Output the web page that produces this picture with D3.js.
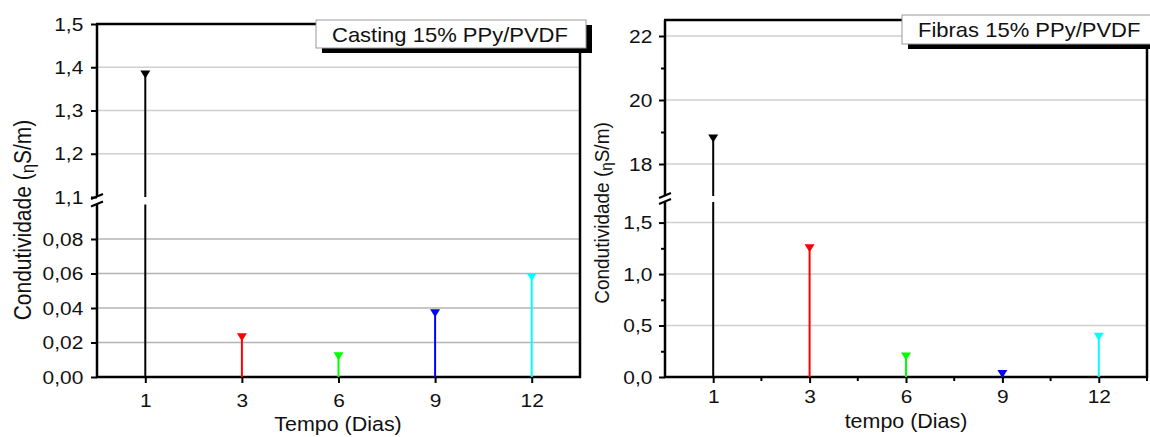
<!DOCTYPE html>
<html>
<head>
<meta charset="utf-8">
<script src="https://d3js.org/d3.v7.min.js"></script>
<style>
  body { margin: 0; background: #fff; }
  svg { display: block; font-family: "Liberation Sans", Arial, sans-serif; }
</style>
</head>
<body>
<svg width="1150" height="437"></svg>
<script>
// data
var days = ["1", "3", "6", "9", "12"];
var stemColors = ["#000000", "#ff0000", "#00ff00", "#0000ff", "#00ffff"];
var castingValues = [1.383, 0.023, 0.012, 0.037, 0.058];
var fibrasValues = [18.8, 1.25, 0.2, 0.03, 0.39];

var castingUpperTicks = [1.1, 1.2, 1.3, 1.4, 1.5];
var castingLowerTicks = [0, 0.02, 0.04, 0.06, 0.08];
var fibrasUpperTicks = [18, 20, 22];
var fibrasUpperMinor = [19, 21];
var fibrasLowerTicks = [0, 0.5, 1.0, 1.5];
var fibrasLowerMinor = [0.25, 0.75, 1.25];

var locale = d3.formatLocale({decimal: ",", thousands: ".", grouping: [3], currency: ["R$", ""]});

var svg = d3.select("svg");
var stretch = "scale(1.1,1)";

function drawPanel(p) {
    var g = svg.append("g");

    var x = d3.scalePoint().domain(days).range([p.x0, p.x1]).padding(0.5);
    var yU = d3.scaleLinear().domain(p.upperDomain).range([p.breakU, p.top]);
    var yL = d3.scaleLinear().domain(p.lowerDomain).range([p.bottom, p.breakL]);

    // gridlines
    g.selectAll(".gu").data(p.upperGrid).enter().append("line")
        .attr("x1", p.x0).attr("x2", p.x1)
        .attr("y1", yU).attr("y2", yU)
        .attr("stroke", "#cfcfcf").attr("stroke-width", 1.5);
    g.selectAll(".gl").data(p.lowerGrid).enter().append("line")
        .attr("x1", p.x0).attr("x2", p.x1)
        .attr("y1", yL).attr("y2", yL)
        .attr("stroke", p.lowerGridColor).attr("stroke-width", 1.5);

    // y axes
    g.append("g").attr("transform", "translate(" + p.x0 + ",0)")
        .call(d3.axisLeft(yU).tickValues(p.upperTicks).tickSize(6).tickPadding(p.yPad)
            .tickFormat(locale.format(p.upperFmt)));
    g.append("g").attr("transform", "translate(" + p.x0 + ",0)")
        .call(d3.axisLeft(yL).tickValues(p.lowerTicks).tickSize(6).tickPadding(p.yPad)
            .tickFormat(locale.format(p.lowerFmt)));
    if (p.upperMinor) {
        g.append("g").attr("transform", "translate(" + p.x0 + ",0)")
            .call(d3.axisLeft(yU).tickValues(p.upperMinor).tickSize(4).tickFormat(""));
        g.append("g").attr("transform", "translate(" + p.x0 + ",0)")
            .call(d3.axisLeft(yL).tickValues(p.lowerMinor).tickSize(4).tickFormat(""));
    }

    // x axis
    g.append("g").attr("transform", "translate(0," + p.bottom + ")")
        .call(d3.axisBottom(x).tickSize(6).tickPadding(p.xPad));
    if (p.xMinor) {
        var mids = [];
        for (var i = 0; i < days.length - 1; i++) {
            mids.push((x(days[i]) + x(days[i + 1])) / 2);
        }
        mids.push(x(days[days.length - 1]) + x.step() / 2);
        g.selectAll(".xm").data(mids).enter().append("line")
            .attr("x1", function (d) { return d; }).attr("x2", function (d) { return d; })
            .attr("y1", p.bottom).attr("y2", p.bottom + 4)
            .attr("stroke", "#000").attr("stroke-width", 2);
    }

    g.selectAll(".domain").remove();
    g.selectAll(".tick line").attr("stroke", "#000").attr("stroke-width", 2);
    g.selectAll(".tick text").attr("font-size", 19).attr("fill", "#111")
        .attr("font-family", "'Liberation Sans', Arial, sans-serif")
        .attr("transform", stretch);

    // frame
    var frame = g.append("g").attr("stroke", "#000").attr("stroke-width", 2.5).attr("fill", "none");
    frame.append("line").attr("x1", p.x0).attr("x2", p.x0).attr("y1", p.top).attr("y2", p.breakU);
    frame.append("line").attr("x1", p.x0).attr("x2", p.x0).attr("y1", p.breakL).attr("y2", p.bottom);
    frame.append("line").attr("x1", p.x0 - 1).attr("x2", p.x1 + 1).attr("y1", p.bottom).attr("y2", p.bottom);
    frame.append("line").attr("x1", p.x0 - 1).attr("x2", p.legX).attr("y1", p.top).attr("y2", p.top);
    frame.append("line").attr("x1", p.x1).attr("x2", p.x1).attr("y1", p.legY + p.legH).attr("y2", p.bottom + 1);

    // break marks
    var bk = g.append("g").attr("stroke", "#000").attr("stroke-width", 2);
    bk.append("line").attr("x1", p.x0 - 6).attr("x2", p.x0 + 6)
        .attr("y1", p.breakU + 2).attr("y2", p.breakU - 3);
    bk.append("line").attr("x1", p.x0 - 6).attr("x2", p.x0 + 6)
        .attr("y1", p.breakL + 2).attr("y2", p.breakL - 3);

    // stems and markers
    var pts = days.map(function (d, i) { return {day: d, v: p.values[i], c: stemColors[i]}; });
    var yv = function (v) { return v >= p.upperDomain[0] ? yU(v) : yL(v); };

    var stems = g.selectAll(".stem").data(pts).enter().append("g");
    stems.each(function (d) {
        var s = d3.select(this);
        var cx = x(d.day);
        if (d.v >= p.upperDomain[0]) {
            s.append("line").attr("x1", cx).attr("x2", cx)
                .attr("y1", yU(d.v)).attr("y2", yU(p.upperDomain[0]))
                .attr("stroke", d.c).attr("stroke-width", 2);
            s.append("line").attr("x1", cx).attr("x2", cx)
                .attr("y1", yL(p.lowerDomain[1])).attr("y2", yL(0))
                .attr("stroke", d.c).attr("stroke-width", 2);
        } else {
            s.append("line").attr("x1", cx).attr("x2", cx)
                .attr("y1", yL(d.v)).attr("y2", yL(0))
                .attr("stroke", d.c).attr("stroke-width", 2);
        }
    });
    g.selectAll(".mk").data(pts).enter().append("path")
        .attr("d", function (d) {
            var cx = x(d.day), cy = yv(d.v);
            return "M" + (cx - 5) + "," + (cy - 4) + "L" + (cx + 5) + "," + (cy - 4) + "L" + cx + "," + (cy + 4) + "Z";
        })
        .attr("fill", function (d) { return d.c; });

    // legend box
    g.append("rect").attr("x", p.legX + 6).attr("y", p.legY + 5)
        .attr("width", p.legW).attr("height", p.legH).attr("fill", "#000");
    g.append("rect").attr("x", p.legX).attr("y", p.legY)
        .attr("width", p.legW).attr("height", p.legH)
        .attr("fill", "#fff").attr("stroke", "#9a9a9a").attr("stroke-width", 1);
    g.append("text").attr("transform", "translate(" + (p.legX + 16) + "," + (p.legY + 22) + ") " + stretch)
        .attr("font-size", 20).attr("fill", "#111").text(p.legend);

    // axis titles
    g.append("text")
        .attr("transform", "translate(" + p.xTitleX + "," + p.xTitleY + ") " + stretch)
        .attr("text-anchor", "middle").attr("font-size", 19.5).attr("fill", "#111")
        .text(p.xTitle);
    var yt = g.append("text")
        .attr("transform", "translate(" + p.yTitleX + "," + p.yTitleY + ") rotate(-90) scale(1,1.1)")
        .attr("text-anchor", "middle").attr("font-size", p.yTitleSize).attr("fill", "#111");
    yt.append("tspan").text("Condutividade (");
    yt.append("tspan").attr("font-size", p.yTitleSize * 0.8).attr("dy", 3).text("\u03b7");
    yt.append("tspan").attr("dy", -3).text("S/m)");
}

drawPanel({
    x0: 97, x1: 580, top: 24, breakU: 197, breakL: 204.5, bottom: 377,
    upperDomain: [1.1, 1.5], lowerDomain: [0, 0.1],
    upperTicks: castingUpperTicks, lowerTicks: castingLowerTicks,
    upperGrid: [1.2, 1.3, 1.4], lowerGrid: [0.02, 0.04, 0.06, 0.08],
    lowerGridColor: "#b4b4b4",
    upperFmt: ".1f", lowerFmt: ".2f",
    values: castingValues,
    yPad: 6.5, xPad: 10.5, xMinor: false,
    legX: 316, legY: 20, legW: 270, legH: 28, legend: "Casting 15% PPy/PVDF",
    xTitle: "Tempo (Dias)", xTitleX: 338, xTitleY: 431,
    yTitleX: 31, yTitleY: 220, yTitleSize: 21
});

drawPanel({
    x0: 665, x1: 1147, top: 20, breakU: 196, breakL: 202, bottom: 377,
    upperDomain: [17, 22.5], lowerDomain: [0, 1.7],
    upperTicks: fibrasUpperTicks, lowerTicks: fibrasLowerTicks,
    upperMinor: fibrasUpperMinor, lowerMinor: fibrasLowerMinor,
    upperGrid: [18, 20, 22], lowerGrid: [0.5, 1.0, 1.5],
    lowerGridColor: "#cfcfcf",
    upperFmt: "d", lowerFmt: ".1f",
    values: fibrasValues,
    yPad: 5.5, xPad: 6.5, xMinor: true,
    legX: 902, legY: 15, legW: 260, legH: 29, legend: "Fibras 15% PPy/PVDF",
    xTitle: "tempo (Dias)", xTitleX: 906, xTitleY: 428,
    yTitleX: 609, yTitleY: 213, yTitleSize: 19
});
</script>
</body>
</html>
